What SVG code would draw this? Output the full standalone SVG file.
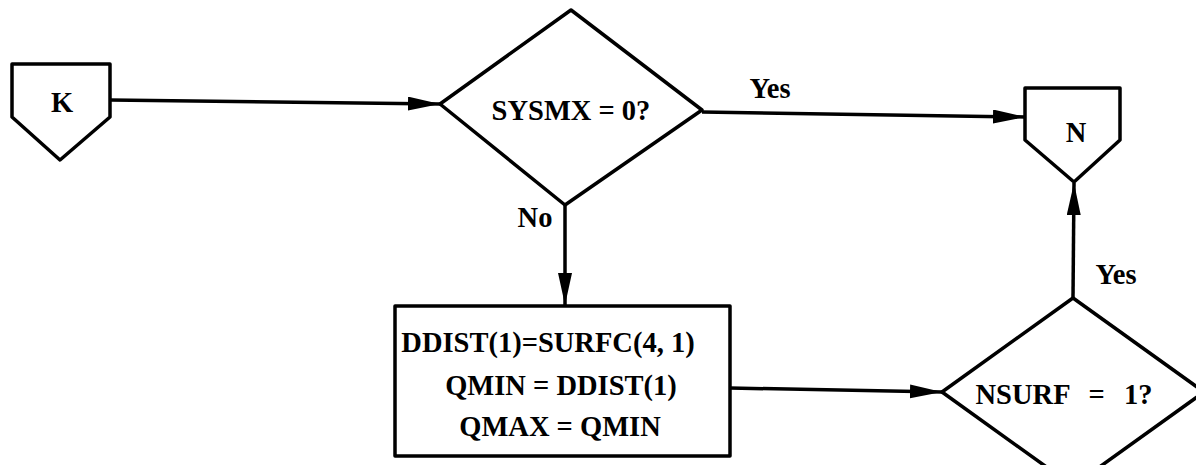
<svg xmlns="http://www.w3.org/2000/svg" width="1196" height="465" viewBox="0 0 1196 465">
<style>
.shape{fill:#fff;stroke:#000;stroke-width:3.5;stroke-linejoin:round}
.conn{fill:none;stroke:#000;stroke-width:3.5}
.t{font-family:"Liberation Serif","Times New Roman",serif;font-weight:bold;font-size:28.5px;fill:#000;text-anchor:middle}
</style>
<defs>
<marker id="arr" markerUnits="userSpaceOnUse" markerWidth="36" markerHeight="18" refX="32" refY="7" orient="auto">
<path d="M0,0 L32,7 L0,14 Z" fill="#000"/>
</marker>
</defs>
<rect width="1196" height="465" fill="#fff"/>
<g id="connectors">
<line class="conn" x1="110" y1="100" x2="440" y2="104" marker-end="url(#arr)"/>
<line class="conn" x1="702" y1="112" x2="1025" y2="117" marker-end="url(#arr)"/>
<line class="conn" x1="565" y1="205" x2="565" y2="305" marker-end="url(#arr)"/>
<line class="conn" x1="730" y1="388" x2="942" y2="392" marker-end="url(#arr)"/>
<line class="conn" x1="1073" y1="298" x2="1074" y2="183" marker-end="url(#arr)"/>
<text class="t" x="770" y="98">Yes</text>
<text class="t" x="535" y="227">No</text>
<text class="t" x="1116" y="284">Yes</text>
</g>
<g id="nodeK">
<path class="shape" d="M12,64 L110,64 L110,117 L60,160 L12,117 Z"/>
<text class="t" x="62" y="112">K</text>
</g>
<g id="nodeSYSMX">
<path class="shape" d="M571,10 L702,110 L565,205 L440,104 Z"/>
<text class="t" x="571" y="120">SYSMX = 0?</text>
</g>
<g id="nodeN">
<path class="shape" d="M1025,88 L1120,88 L1120,140 L1074,182 L1025,140 Z"/>
<text class="t" x="1076" y="142">N</text>
</g>
<g id="nodeBox">
<rect class="shape" x="395" y="306" width="335" height="150"/>
<text class="t" x="548" y="352">DDIST(1)=SURFC(4, 1)</text>
<text class="t" x="561" y="395">QMIN = DDIST(1)</text>
<text class="t" x="560" y="436">QMAX = QMIN</text>
</g>
<g id="nodeNSURF">
<path class="shape" d="M1073,298 L1204,392 L1073,486 L942,392 Z"/>
<text class="t" x="1064" y="404" style="word-spacing:12px">NSURF = 1?</text>
</g>
</svg>
